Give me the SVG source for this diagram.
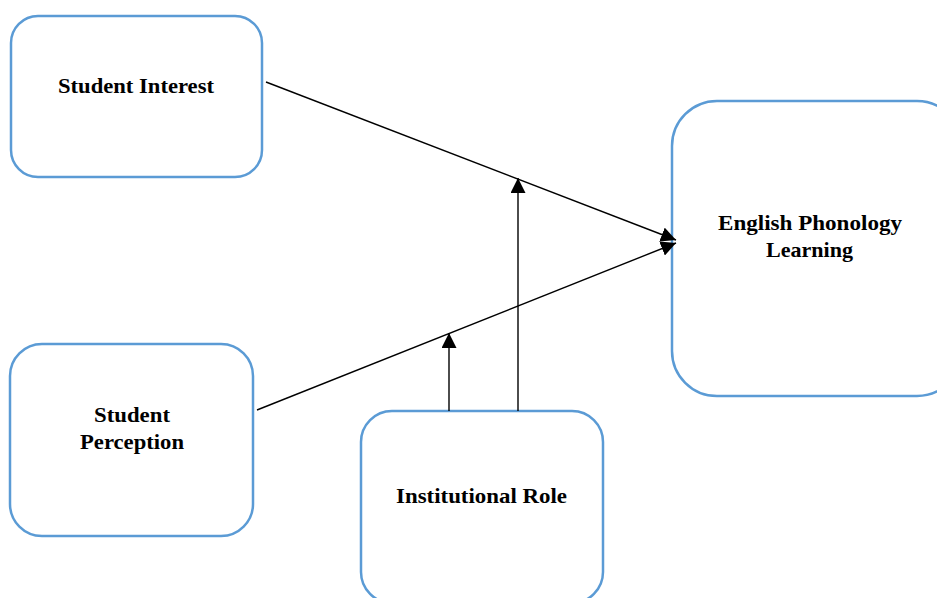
<svg xmlns="http://www.w3.org/2000/svg" width="937" height="598" viewBox="0 0 937 598">
<style>
.box{fill:#fff;stroke:#5B9BD5;stroke-width:2.5}
.lbl{font-family:"Liberation Serif","DejaVu Serif",serif;font-weight:bold;font-size:21px;fill:#000;text-anchor:middle}
.ln{stroke:#000;stroke-width:1.4;fill:none}
</style>
<defs>
<marker id="ah" viewBox="0 0 10 10" refX="10" refY="5" markerWidth="15" markerHeight="15" markerUnits="userSpaceOnUse" orient="auto">
<path d="M0,0 L10,5 L0,10 Z" fill="#000"/>
</marker>
</defs>
<rect width="937" height="598" fill="#fff"/>
<g id="student-interest">
<rect class="box" x="11" y="16" width="251" height="161" rx="27" ry="27"/>
<text class="lbl" x="136" y="93" textLength="156" lengthAdjust="spacingAndGlyphs">Student Interest</text>
</g>
<g id="student-perception">
<rect class="box" x="10" y="344" width="243" height="192" rx="32" ry="32"/>
<text class="lbl" x="132" y="422" textLength="76" lengthAdjust="spacingAndGlyphs">Student</text>
<text class="lbl" x="132" y="449" textLength="104" lengthAdjust="spacingAndGlyphs">Perception</text>
</g>
<g id="institutional-role">
<rect class="box" x="361" y="411" width="242" height="192" rx="31" ry="31"/>
<text class="lbl" x="481.5" y="503" textLength="171" lengthAdjust="spacingAndGlyphs">Institutional Role</text>
</g>
<g id="english-phonology-learning">
<rect class="box" x="672" y="101" width="290" height="295" rx="45" ry="45"/>
<text class="lbl" x="810" y="230" textLength="184" lengthAdjust="spacingAndGlyphs">English Phonology</text>
<text class="lbl" x="809.5" y="257" textLength="87" lengthAdjust="spacingAndGlyphs">Learning</text>
</g>
<g id="connectors">
<line class="ln" x1="266" y1="82" x2="676" y2="240" marker-end="url(#ah)"/>
<line class="ln" x1="257" y1="410" x2="676" y2="243" marker-end="url(#ah)"/>
<line class="ln" x1="518" y1="411" x2="518" y2="178" marker-end="url(#ah)"/>
<line class="ln" x1="449" y1="411" x2="449" y2="333" marker-end="url(#ah)"/>
</g>
</svg>
